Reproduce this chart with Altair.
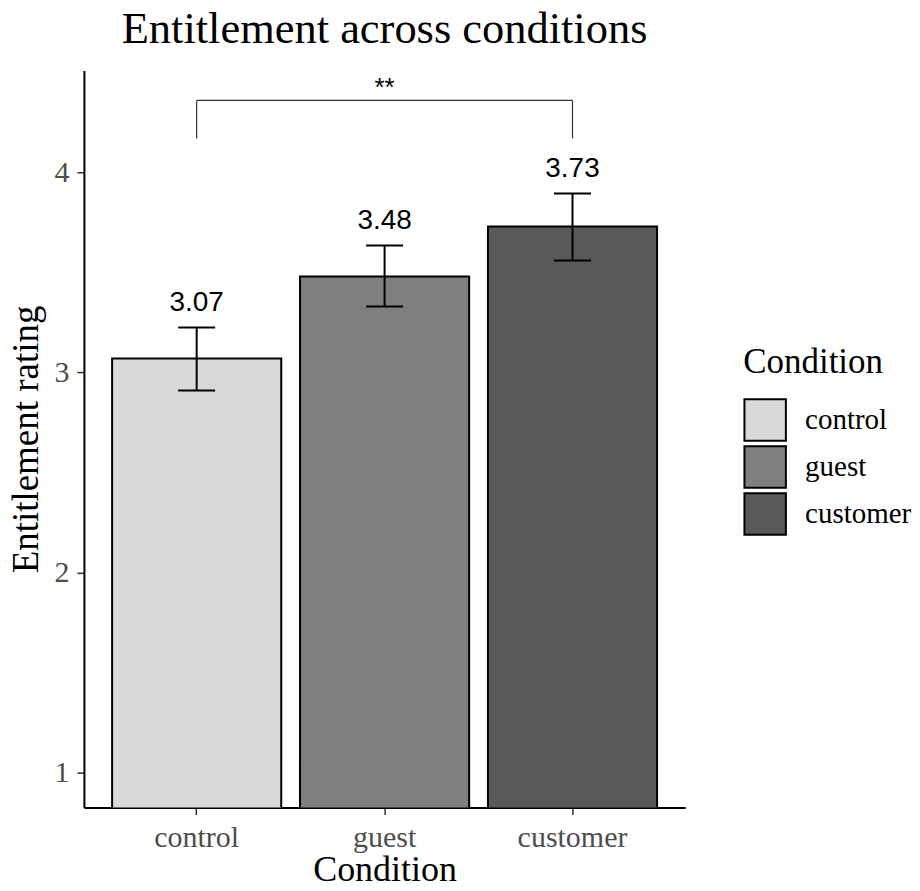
import altair as alt
import pandas as pd

# ---- data ----
conditions = ["control", "guest", "customer"]
means = [3.07, 3.48, 3.73]
ci_low = [2.91, 3.33, 3.56]
ci_high = [3.225, 3.635, 3.895]
mean_labels = ["3.07", "3.48", "3.73"]
fill_colors = ["#d9d9d9", "#7f7f7f", "#595959"]
y_ticks = [1, 2, 3, 4]
y_domain = [0.825, 4.51]

bracket_ends = ["control", "customer"]
bracket_top = 4.36
bracket_bottom = 4.17
bracket_label = "**"
bracket_label_at = "guest"

df = pd.DataFrame({
    "Condition": conditions,
    "mean": means,
    "lo": ci_low,
    "hi": ci_high,
    "label": mean_labels,
})
legs = pd.DataFrame({
    "Condition": bracket_ends,
    "yb": [bracket_bottom] * len(bracket_ends),
    "yt": [bracket_top] * len(bracket_ends),
})
span = pd.DataFrame({
    "Condition": [bracket_ends[0]],
    "to": [bracket_ends[1]],
    "yt": [bracket_top],
})
star = pd.DataFrame({
    "Condition": [bracket_label_at],
    "yt": [bracket_top],
    "txt": [bracket_label],
})

serif = "Liberation Serif"
sans = "Liberation Sans"

x_scale = alt.Scale(domain=conditions, paddingInner=0.1, paddingOuter=0.15)
y_scale = alt.Scale(domain=y_domain, nice=False, zero=False)
x_axis = alt.Axis(title="Condition", labelAngle=0, tickSize=7, labelPadding=8,
                  titlePadding=0, titleFontSize=36)
y_axis = alt.Axis(title="Entitlement rating", values=y_ticks, tickSize=7, labelPadding=8,
                  titlePadding=8, format="d", titleFontSize=37)

X = lambda: alt.X("Condition:N", scale=x_scale, sort=conditions, axis=x_axis)

bars = alt.Chart(df).mark_bar(stroke="black", strokeWidth=2, clip=True).encode(
    x=X(),
    y=alt.Y("mean:Q", scale=y_scale, axis=y_axis),
    color=alt.Color(
        "Condition:N",
        scale=alt.Scale(domain=conditions, range=fill_colors),
        legend=alt.Legend(title="Condition"),
    ),
)

err = alt.Chart(df).mark_rule(color="black", strokeWidth=2).encode(
    x=X(),
    y=alt.Y("lo:Q", scale=y_scale, axis=y_axis),
    y2="hi:Q",
)
cap_lo = alt.Chart(df).mark_tick(color="black", thickness=2, size=37, opacity=1).encode(
    x=X(), y=alt.Y("lo:Q", scale=y_scale, axis=y_axis)
)
cap_hi = alt.Chart(df).mark_tick(color="black", thickness=2, size=37, opacity=1).encode(
    x=X(), y=alt.Y("hi:Q", scale=y_scale, axis=y_axis)
)
labels = alt.Chart(df).mark_text(
    font=sans, fontSize=28, baseline="alphabetic", dy=-16, color="black"
).encode(
    x=X(), y=alt.Y("hi:Q", scale=y_scale, axis=y_axis), text="label:N"
)

b_legs = alt.Chart(legs).mark_rule(color="#333333", strokeWidth=1.2).encode(
    x=X(), y=alt.Y("yb:Q", scale=y_scale, axis=y_axis), y2="yt:Q"
)
b_span = alt.Chart(span).mark_rule(color="#333333", strokeWidth=1.2).encode(
    x=X(), x2="to:N", y=alt.Y("yt:Q", scale=y_scale, axis=y_axis)
)
b_star = alt.Chart(star).mark_text(
    font=sans, fontSize=26, baseline="alphabetic", dy=-4, color="black"
).encode(
    x=X(), y=alt.Y("yt:Q", scale=y_scale, axis=y_axis), text="txt:N"
)

chart = alt.layer(bars, err, cap_lo, cap_hi, labels, b_legs, b_span, b_star).properties(
    width=602,
    height=738,
    title=alt.TitleParams(
        "Entitlement across conditions",
        font=serif, fontSize=44.5, fontWeight="normal", color="black",
        anchor="middle", frame="group", offset=18,
    ),
    padding={"left": 0, "top": -2, "right": 0, "bottom": -6},
).configure_view(stroke=None).configure_axis(
    grid=False,
    domainColor="black",
    domainWidth=2,
    tickColor="#333333",
    tickWidth=1.5,
    labelFont=serif,
    labelFontSize=30,
    labelColor="#4d4d4d",
    titleFont=serif,
    titleFontWeight="normal",
    titleColor="black",
).configure_legend(
    orient="none",
    legendX=660,
    legendY=275,
    padding=0,
    titleFont=serif,
    titleFontSize=35,
    titleFontWeight="normal",
    titleColor="black",
    titlePadding=18,
    labelFont=serif,
    labelFontSize=29,
    labelColor="black",
    labelOffset=18,
    symbolType="square",
    symbolSize=1722,
    symbolStrokeColor="black",
    symbolStrokeWidth=2,
    symbolOpacity=1,
    rowPadding=-6,
)

chart.save("out.html", embed_options={"renderer": "svg", "actions": False})
